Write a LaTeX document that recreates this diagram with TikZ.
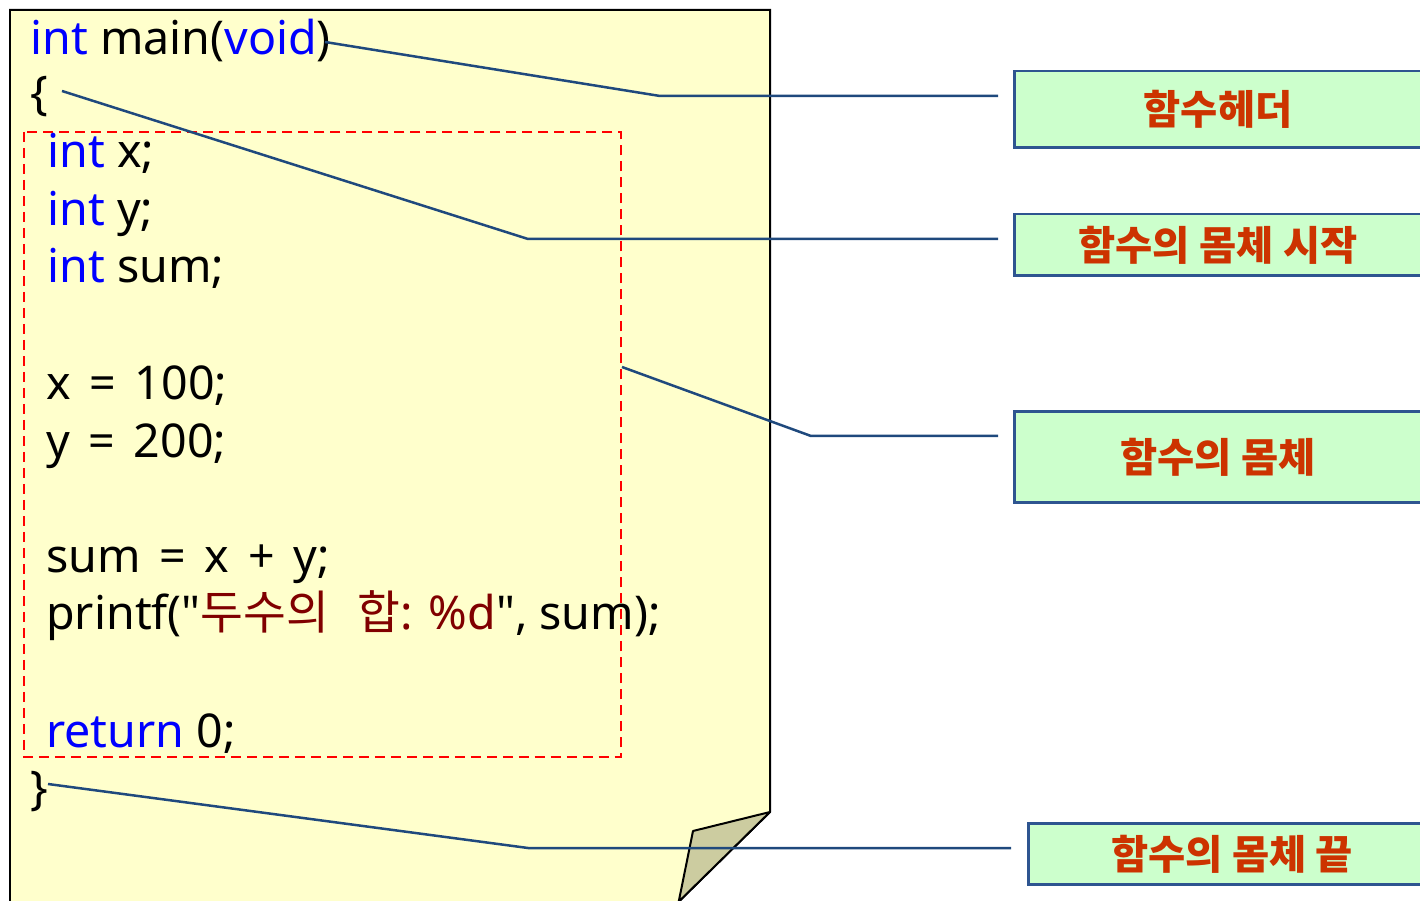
\documentclass[tikz,border=0pt]{standalone}
\usepackage{fontspec}
\setmainfont{Noto Sans}
\newfontfamily\kr{Noto Sans CJK KR}
\newcommand\csp{\hspace{0.4em}}
\definecolor{paper}{RGB}{255,255,204}
\definecolor{flap}{RGB}{204,204,160}
\definecolor{kwblue}{RGB}{0,0,255}
\definecolor{strred}{RGB}{128,0,0}
\definecolor{lineblue}{RGB}{31,73,125}
\definecolor{boxblue}{RGB}{46,85,144}
\definecolor{boxgreen}{RGB}{204,255,204}
\definecolor{lblred}{RGB}{204,51,0}
\begin{document}
\begin{tikzpicture}[x=0.02cm,y=-0.02cm,
        code/.style={anchor=base west,inner sep=0pt,font=\fontsize{26.5}{32}\selectfont},
        lbl/.style={draw=boxblue,line width=0.06cm,fill=boxgreen,text=lblred,minimum width=8.16cm,
            font=\kr\bfseries\fontsize{23}{28}\selectfont},
        link/.style={draw=lineblue,line width=0.05cm}]
        \useasboundingbox (0,0) rectangle (1420,901);
        \clip (0,0) rectangle (1420,901);

        % paper with folded corner
        \filldraw[fill=paper,line width=0.04cm] (10,10) -- (770,10) -- (770,812) -- (660,920) -- (10,920) -- cycle;
        \filldraw[fill=flap,line width=0.04cm,line join=round] (770,812) -- (693,831) -- (675,920) -- (660,920) -- cycle;
        \draw[red,line width=0.05cm,dash pattern=on 0.2cm off 0.12cm] (24,132) rectangle (621,757);

        % code
        \node[code] (l1) at (30,55) {\textcolor{kwblue}{int} main(\textcolor{kwblue}{void})};
        \node[code] (l2) at (30,110) {\{};
        \node[code] (l3) at (47,168) {\textcolor{kwblue}{int} x;};
        \node[code] (l4) at (47,226) {\textcolor{kwblue}{int} y;};
        \node[code] (l5) at (47,283) {\textcolor{kwblue}{int} sum;};
        \node[code] (l6) at (46,400) {x\csp=\csp100;};
        \node[code] (l7) at (46,458) {y\csp=\csp200;};
        \node[code] (l8) at (46,573) {sum\csp=\csp x\csp+\csp y;};
        \node[code] (l9) at (46,630) {printf(\textquotedbl\textcolor{strred}{{\kr 두수의\hspace{0.6em}합}: \%d}\textquotedbl, sum);};
        \node[code] (l10) at (46,747) {\textcolor{kwblue}{return} 0;};
        \node[code] (l11) at (30,805) {\}};

        % labels
        \node[lbl,minimum height=1.54cm] (b1) at (1218,109.5) {함수헤더};
        \node[lbl,minimum height=1.24cm] (b2) at (1218,245) {함수의 몸체 시작};
        \node[lbl,minimum height=1.84cm] (b3) at (1218,457) {함수의 몸체};
        \node[lbl,minimum height=1.24cm] (b4) at (1232,854) {함수의 몸체 끝};

        \coordinate (s1) at (325,42);
        \coordinate (s2) at (62,91);
        \coordinate (s3) at (622,367);
        \coordinate (s4) at (48,784);
        \coordinate (e1) at (998,96);
        \coordinate (e2) at (998,239);
        \coordinate (e3) at (998,436);
        \coordinate (e4) at (1011,848);

        \draw[link] (s1) -- (660,96) -- (e1);
        \draw[link] (s2) -- (528,239) -- (e2);
        \draw[link] (s3) -- (811,436) -- (e3);
        \draw[link] (s4) -- (528,848) -- (e4);
    \end{tikzpicture}
\end{document}
